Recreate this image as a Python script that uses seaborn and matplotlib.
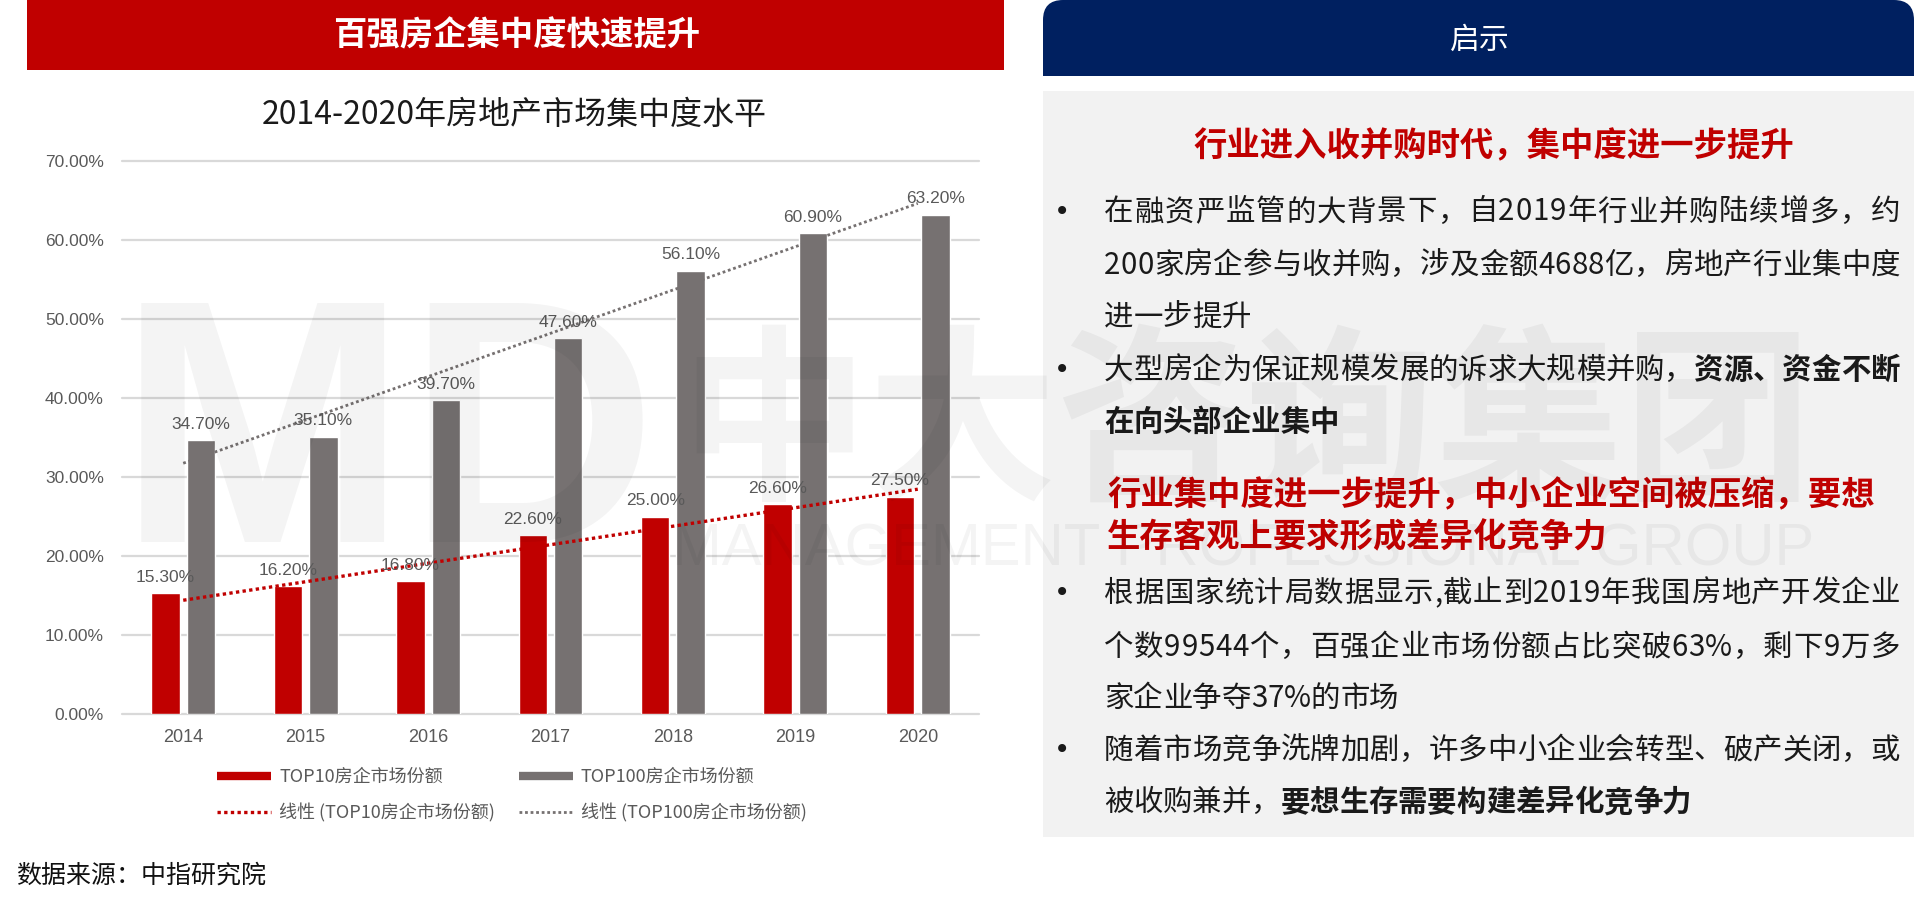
import numpy as np
import pandas as pd
import matplotlib
matplotlib.use('Agg')
import matplotlib.pyplot as plt
import seaborn as sns
from matplotlib.lines import Line2D
from matplotlib.patches import Rectangle, FancyBboxPatch
from matplotlib.transforms import IdentityTransform

# ---------------- data ----------------
years = ['2014', '2015', '2016', '2017', '2018', '2019', '2020']
top10 = [15.3, 16.2, 16.8, 22.6, 25.0, 26.6, 27.5]
top100 = [34.7, 35.1, 39.7, 47.6, 56.1, 60.9, 63.2]
series_names = ['TOP10房企市场份额', 'TOP100房企市场份额']
trend_names = ['线性 (TOP10房企市场份额)', '线性 (TOP100房企市场份额)']
yticks = [0, 10, 20, 30, 40, 50, 60, 70]

left_title = '百强房企集中度快速提升'
chart_title = '2014-2020年房地产市场集中度水平'
source_text = '数据来源：中指研究院'
right_title = '启示'
heading1 = '行业进入收并购时代，集中度进一步提升'
heading2 = ['行业集中度进一步提升，中小企业空间被压缩，要想', '生存客观上要求形成差异化竞争力']
bullet1 = [[('在融资严监管的大背景下，自2019年行业并购陆续增多，约', 'normal')],
           [('200家房企参与收并购，涉及金额4688亿，房地产行业集中度', 'normal')],
           [('进一步提升', 'normal')]]
bullet2 = [[('大型房企为保证规模发展的诉求大规模并购，', 'normal'), ('资源、资金不断', 'bold')],
           [('在向头部企业集中', 'bold')]]
bullet3 = [[('根据国家统计局数据显示,截止到2019年我国房地产开发企业', 'normal')],
           [('个数99544个，百强企业市场份额占比突破63%，剩下9万多', 'normal')],
           [('家企业争夺37%的市场', 'normal')]]
bullet4 = [[('随着市场竞争洗牌加剧，许多中小企业会转型、破产关闭，或', 'normal')],
           [('被收购兼并，', 'normal'), ('要想生存需要构建差异化竞争力', 'bold')]]

RED = '#C00000'
GREY = '#767171'
NAVY = '#002060'
TXT = '#595959'

W, H = 1916, 905
sns.set_theme(style='white')
plt.rcParams['font.family'] = ['Liberation Sans', 'Noto Sans CJK SC']
CJK = ['Noto Sans CJK SC', 'Liberation Sans', 'DejaVu Sans']

fig = plt.figure(figsize=(W / 100, H / 100), dpi=100)
fig.patch.set_facecolor('white')
ID = IdentityTransform()


def prect(x0, y0, x1, y1, color, z=0):
    fig.add_artist(Rectangle((x0, H - y1), x1 - x0, y1 - y0, transform=ID,
                             facecolor=color, edgecolor='none', zorder=z))


def ptext(x, y, s, **kw):
    return fig.text(x / W, 1 - y / H, s, **kw)


# ---------------- headers / panels ----------------
prect(27, 0, 1004, 70, RED)
ptext(517, 36, left_title, ha='center', va='center', color='white',
      fontsize=24, weight='bold', family=CJK)

fig.add_artist(FancyBboxPatch((1043, H - 76), 1914 - 1043, 76, transform=ID,
                              boxstyle='round,pad=0,rounding_size=20',
                              facecolor=NAVY, edgecolor='none', zorder=0))
prect(1043, 40, 1914, 76, NAVY, z=0)
ptext(1480, 40, right_title, ha='center', va='center', color='white',
      fontsize=21.5, family=CJK)

prect(1043, 91, 1914, 837, '#F2F2F2')

# ---------------- chart ----------------
ptext(514, 115, chart_title, ha='center', va='center', color='#1a1a1a',
      fontsize=23, family=CJK)

ax = fig.add_axes([122 / W, 1 - 714 / H, (979 - 122) / W, (714 - 161) / H])
ax.patch.set_alpha(0)

df = pd.DataFrame({
    'year': years * 2,
    'value': top10 + top100,
    'series': [series_names[0]] * len(years) + [series_names[1]] * len(years),
})
sns.barplot(data=df, x='year', y='value', hue='series', palette=[RED, GREY],
            width=0.58, gap=0.2, saturation=1, errorbar=None, legend=False,
            ax=ax, zorder=3)

for cont in ax.containers:
    vals = [b.get_height() for b in cont]
    ax.bar_label(cont, labels=[f'{v:.2f}%' for v in vals], padding=6,
                 fontsize=12.5, color=TXT, zorder=6)

xs = np.arange(len(years))
for vals, col, lw in [(top10, RED, 2.4), (top100, GREY, 2.0)]:
    k, b = np.polyfit(xs, vals, 1)
    ax.plot(xs, k * xs + b, linestyle=(0, (1, 1)), color=col, lw=lw, zorder=5)

ax.set_xlim(-0.5, 6.5)
ax.set_ylim(0, 70)
ax.set_yticks(yticks)
ax.set_yticklabels([f'{v:.2f}%' for v in yticks])
ax.grid(axis='y', color='#D9D9D9', lw=1.6, zorder=0)
ax.grid(axis='x', visible=False)
for s in ax.spines.values():
    s.set_visible(False)
ax.tick_params(axis='y', length=0, pad=13, labelsize=12.5, labelcolor=TXT)
ax.tick_params(axis='x', length=0, pad=11, labelsize=13, labelcolor=TXT)
ax.set_xlabel('')
ax.set_ylabel('')
for gl in ax.get_ygridlines():
    gl.set_clip_on(False)

handles = [Line2D([], [], color=RED, lw=6, solid_capstyle='butt'),
           Line2D([], [], color=RED, lw=2.4, linestyle=(0, (1, 1))),
           Line2D([], [], color=GREY, lw=6, solid_capstyle='butt'),
           Line2D([], [], color=GREY, lw=2.0, linestyle=(0, (1, 1)))]
labels = [series_names[0], trend_names[0], series_names[1], trend_names[1]]
leg = fig.legend(handles, labels, loc='upper left',
                 bbox_to_anchor=(217 / W, 1 - 768 / H), ncol=2, frameon=False,
                 borderpad=0, borderaxespad=0, handlelength=3.0,
                 handletextpad=0.45, columnspacing=1.3, labelspacing=0.95,
                 prop={'family': CJK, 'size': 13})
for t in leg.get_texts():
    t.set_color(TXT)

ptext(16, 876, source_text, ha='left', va='center', color='#111111',
      fontsize=18, family=CJK)

# ---------------- right panel text ----------------
ptext(1494, 147, heading1, ha='center', va='center', color=RED,
      fontsize=24, weight='bold', family=CJK)
for line, y in zip(heading2, [496, 538]):
    ptext(1107, y, line, ha='left', va='center', color=RED,
          fontsize=24, weight='bold', family=CJK)

renderer = fig.canvas.get_renderer()
BODY = '#1a1a1a'
FS = 21.2
X0, X1 = 1104, 1900


def char_w(ch, w):
    t = ptext(0, 0, ch, fontsize=FS, weight=w, family=CJK)
    wd = t.get_window_extent(renderer=renderer).width
    t.remove()
    return wd


def write_line(parts, y, justify):
    chars = [(ch, w) for s, w in parts for ch in s]
    widths = [char_w(ch, w) for ch, w in chars]
    total = sum(widths)
    extra = (X1 - X0 - total) / (len(chars) - 1) if justify and len(chars) > 1 else 0
    extra = max(extra, 0)
    x = X0
    for (ch, w), wd in zip(chars, widths):
        ptext(x, y, ch, ha='left', va='center', color=BODY,
              fontsize=FS, weight=w, family=CJK)
        x += wd + extra


def write_block(lines, ys):
    ptext(1062, ys[0], '•', ha='center', va='center', color=BODY,
          fontsize=20, family=['DejaVu Sans'])
    for i, (parts, y) in enumerate(zip(lines, ys)):
        write_line(parts, y, justify=(i < len(lines) - 1))


write_block(bullet1, [212, 265, 317])
write_block(bullet2, [370, 422])
write_block(bullet3, [593, 647, 698])
write_block(bullet4, [750, 802])

# ---------------- watermark ----------------
wm = dict(color='black', alpha=0.045, zorder=20)
ptext(118, 452, 'MD', ha='left', va='center', fontsize=250, weight='bold',
      family=['Liberation Sans'], **wm)
ptext(1246, 430, '中大咨询集团', ha='center', va='center', fontsize=136,
      weight='bold', family=CJK, **wm)
ptext(1243, 550, 'MANAGEMENT PROFESSIONAL GROUP', ha='center', va='center',
      fontsize=43, family=['Liberation Sans'], **wm)

fig.savefig('out.png', dpi=100, facecolor='white')
